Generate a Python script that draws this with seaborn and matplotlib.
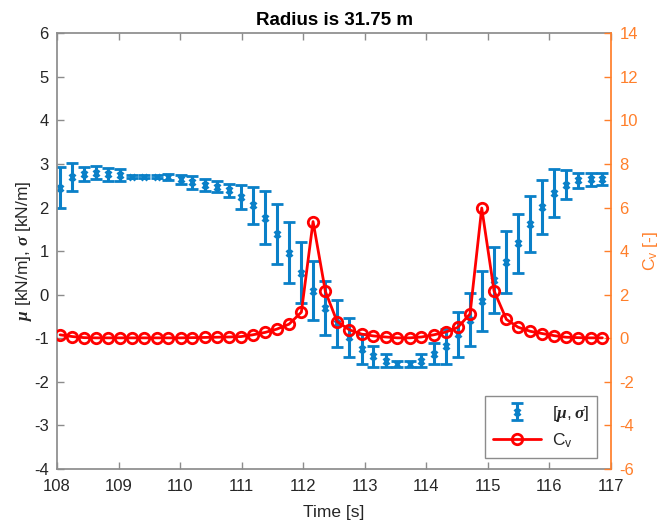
import numpy as np
import pandas as pd
import matplotlib
matplotlib.use('Agg')
import matplotlib.pyplot as plt
import seaborn as sns

# values
times = [108.05, 108.25, 108.44, 108.64, 108.83, 109.03, 109.22, 109.42, 109.62, 109.81,
         110.01, 110.20, 110.40, 110.60, 110.79, 110.99, 111.18, 111.38, 111.57, 111.77,
         111.97, 112.16, 112.36, 112.55, 112.75, 112.95, 113.14, 113.34, 113.53, 113.73,
         113.92, 114.12, 114.32, 114.51, 114.71, 114.90, 115.10, 115.30, 115.49, 115.69,
         115.88, 116.08, 116.27, 116.47, 116.67, 116.86]

mu = [2.46, 2.71, 2.78, 2.80, 2.77, 2.75, 2.71, 2.71, 2.71, 2.70,
      2.65, 2.58, 2.52, 2.48, 2.40, 2.25, 2.05, 1.77, 1.40, 0.96,
      0.51, 0.09, -0.31, -0.66, -0.98, -1.24, -1.41, -1.52, -1.59, -1.59,
      -1.52, -1.35, -1.18, -0.91, -0.57, -0.15, 0.34, 0.75, 1.18, 1.62,
      2.02, 2.33, 2.53, 2.63, 2.65, 2.66]

sigma = [0.48, 0.32, 0.16, 0.15, 0.15, 0.14, 0.03, 0.03, 0.03, 0.07,
         0.10, 0.15, 0.14, 0.13, 0.15, 0.28, 0.43, 0.60, 0.69, 0.70,
         0.70, 0.68, 0.62, 0.54, 0.45, 0.35, 0.24, 0.15, 0.07, 0.07,
         0.15, 0.25, 0.40, 0.51, 0.61, 0.69, 0.76, 0.72, 0.68, 0.65,
         0.62, 0.55, 0.33, 0.17, 0.15, 0.13]

cv = [0.16, 0.08, 0.03, 0.02, 0.02, 0.02, 0.02, 0.02, 0.02, 0.02,
      0.02, 0.03, 0.04, 0.05, 0.06, 0.08, 0.16, 0.27, 0.42, 0.65,
      1.20, 5.36, 2.15, 0.77, 0.39, 0.19, 0.11, 0.06, 0.02, 0.02,
      0.06, 0.16, 0.29, 0.50, 1.12, 5.98, 2.18, 0.87, 0.51, 0.32,
      0.22, 0.12, 0.05, 0.03, 0.02, 0.02]

x_ticks = list(range(108, 118))
left_ticks = list(range(-4, 7))
right_ticks = list(range(-6, 15, 2))

blue = '#0A80C8'
orange = '#FF7F2A'
grey = '#8C8C8C'
txt = '#262626'

sns.set_theme(style='white')
plt.rcParams['font.family'] = ['Liberation Sans', 'DejaVu Sans']
plt.rcParams['axes.unicode_minus'] = False
plt.rcParams['mathtext.fontset'] = 'custom'
plt.rcParams['mathtext.rm'] = 'Liberation Sans'
plt.rcParams['mathtext.it'] = 'Liberation Serif:italic:bold'
plt.rcParams['mathtext.bf'] = 'Liberation Sans:bold'

fig = plt.figure(figsize=(6.68, 5.29), dpi=100)
ax = fig.add_axes([0.0853, 0.1134, 0.8294, 0.8236])
ax2 = ax.twinx()

eb = ax.errorbar(times, mu, yerr=sigma, fmt='x', color=blue, ms=5, mew=2,
                 elinewidth=2.2, capsize=4.5, capthick=2.2)

df = pd.DataFrame({'time': times, 'cv': cv})
sns.lineplot(data=df, x='time', y='cv', ax=ax2, color='red', lw=2,
             marker='o', ms=7.5, mfc='none', mec='red', mew=2, legend=False)
line = ax2.get_lines()[0]

ax.set_xlim(108, 117)
ax.set_ylim(-4, 6)
ax2.set_ylim(-6, 14)
ax.set_xticks(x_ticks)
ax.set_yticks(left_ticks)
ax2.set_yticks(right_ticks)

ax.tick_params(axis='both', direction='in', length=5, width=1, color=grey,
               labelsize=12, labelcolor=txt, top=True, bottom=True, left=True, right=False)
ax.tick_params(axis='x', pad=7)
ax.tick_params(axis='y', pad=6)
ax2.tick_params(axis='y', direction='in', length=5, width=1, color=orange,
                labelsize=12, labelcolor=orange, right=True, pad=6)

for s in ['top', 'bottom', 'left']:
    ax.spines[s].set_color(grey)
ax.spines['right'].set_visible(False)
for s in ['top', 'bottom', 'left']:
    ax2.spines[s].set_visible(False)
ax2.spines['right'].set_color(orange)

ax.set_title('Radius is 31.75 m', fontsize=13.5, fontweight='bold', color='black', pad=6)
ax.set_xlabel('Time [s]', fontsize=12.5, color=txt, labelpad=8)
ax.set_ylabel(r'$\mu$ [kN/m], $\sigma$ [kN/m]', fontsize=12.5, color=txt, labelpad=0)
ax2.set_ylabel('C$_\\mathrm{v}$ [-]', fontsize=12.5, color=orange, labelpad=2)
ax2.set_xlabel('')

leg = ax2.legend([eb, line], [r'$[\mu,\sigma]$', r'C$_\mathrm{v}$'], loc='lower right',
                 bbox_to_anchor=(0.974, 0.026), borderaxespad=0, fontsize=12.5,
                 frameon=True, fancybox=False, edgecolor=grey, framealpha=1,
                 handlelength=2.8, borderpad=0.45, labelspacing=0.45, handletextpad=0.6)
leg.get_frame().set_linewidth(1)

fig.savefig('out.png', dpi=100)
